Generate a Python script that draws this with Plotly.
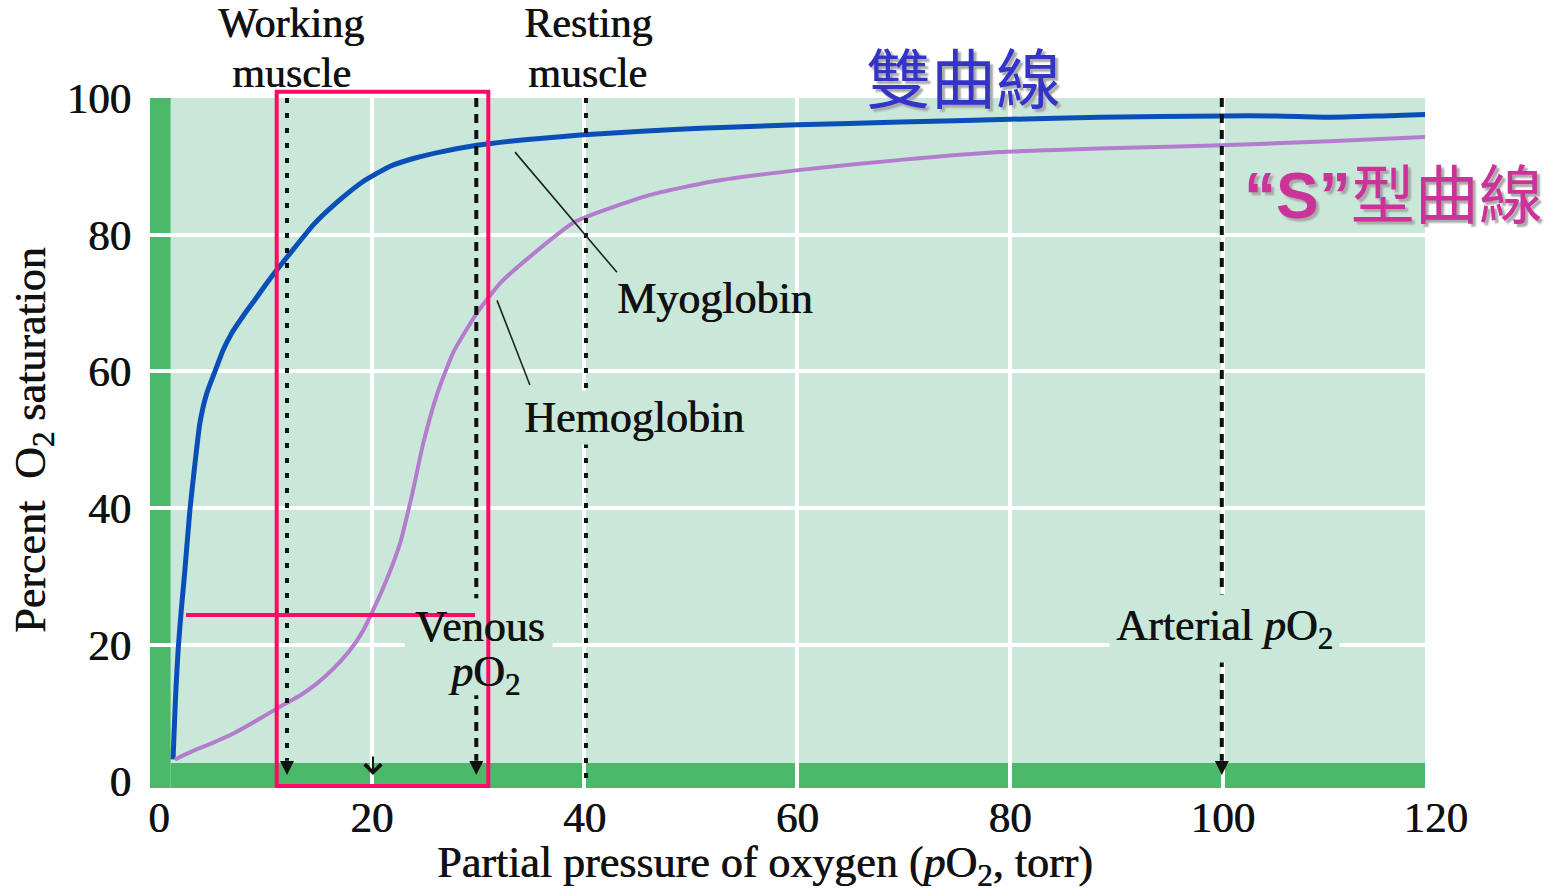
import plotly.graph_objects as go

# ---------------- data ----------------
x_ticks = [0, 20, 40, 60, 80, 100, 120]
y_ticks = [0, 20, 40, 60, 80, 100]
x_grid = [20, 40, 60, 80, 100]
y_grid = [20, 40, 60, 80]

myo_po2 = [1.33, 1.45, 1.6, 1.82, 2.1, 2.45, 2.9, 3.39, 3.86, 4.5, 5.27, 6.0, 6.84, 8.0, 9.03,
           10.0, 10.91, 12.7, 14.6, 17.0, 19.2, 21.7, 24.0, 26.4, 29.9, 33.0, 35.8, 39.6,
           45.0, 50.9, 60.0, 69.7, 80.0, 88.5, 99.9, 105.0, 110.0, 115.0, 119.0]
myo_sat = [3.2, 8.0, 13.5, 19.5, 25.0, 31.0, 39.5, 46.5, 52.5, 56.8, 60.0, 63.0, 65.6, 68.3, 70.5,
           72.6, 74.5, 78.0, 81.6, 85.1, 87.8, 90.0, 91.2, 92.1, 93.1, 93.7, 94.1, 94.6,
           95.1, 95.6, 96.1, 96.5, 96.9, 97.2, 97.4, 97.4, 97.2, 97.4, 97.6]

hb_po2 = [1.51, 3.0, 5.0, 6.99, 9.3, 11.69, 13.3, 14.83, 16.4, 17.96, 19.1, 20.15, 21.4, 22.66,
          23.8, 24.85, 26.11, 27.67, 29.87, 32.06, 34.88, 39.1, 46.1, 52.0, 60.3, 70.0, 79.05,
          90.0, 99.9, 110.0, 119.0]
hb_sat = [3.2, 4.3, 5.6, 7.0, 9.0, 11.2, 12.6, 14.3, 16.5, 19.2, 21.8, 25.1, 29.5, 34.8,
          42.0, 49.5, 56.5, 62.8, 68.5, 72.9, 76.8, 81.9, 85.8, 87.8, 89.5, 91.0, 92.1,
          92.7, 93.1, 93.7, 94.3]

# reference partial pressures (torr)
working_po2 = 12.04
resting_po2 = 40.14
venous_po2 = 29.83
arterial_po2 = 99.9
mid_mark_po2 = 20.12
red_line_sat = 24.34

# ---------------- styles ----------------
LIGHT = "#c9e8da"
GREEN = "#4cb96a"
BLUE = "#0a4fb8"
PURPLE = "#b37ccc"
RED = "#ff0a64"
TXT = "#111111"
SERIF = "Liberation Serif"
HEAVY = "0.7px 0 0 #111111"

XR = [-0.836, 120.69]
YR = [-0.98, 100.02]

fig = go.Figure()

fig.add_trace(go.Scatter(x=myo_po2, y=myo_sat, mode="lines", name="Myoglobin",
                         line=dict(color=BLUE, width=5, shape="spline", smoothing=0.5)))
fig.add_trace(go.Scatter(x=hb_po2, y=hb_sat, mode="lines", name="Hemoglobin",
                         line=dict(color=PURPLE, width=4, shape="spline", smoothing=0.5)))

dot = "5px,10px"
dash = "9px,7px"
for xv, d, y_end in [(working_po2, dot, 3.0), (resting_po2, dot, YR[0]),
                     (venous_po2, dash, 3.0), (arterial_po2, dash, 3.0)]:
    fig.add_trace(go.Scatter(x=[xv, xv], y=[YR[1], y_end], mode="lines",
                             line=dict(color="#111111", width=4, dash=d),
                             hoverinfo="skip"))

fig.add_trace(go.Scatter(x=[working_po2, venous_po2, arterial_po2], y=[0.92, 0.92, 0.92],
                         mode="markers", hoverinfo="skip",
                         marker=dict(symbol="arrow-down", size=14, color="#111111",
                                     line=dict(width=0))))

shapes = [
    # light background field
    dict(type="rect", xref="x", yref="y", x0=1.11, x1=119.0, y0=YR[0], y1=YR[1],
         fillcolor=LIGHT, line=dict(width=0), layer="below"),
    # green left bar
    dict(type="rect", xref="x", yref="y", x0=XR[0], x1=1.11, y0=YR[0], y1=YR[1],
         fillcolor=GREEN, line=dict(width=0), layer="below"),
    # green bottom bar
    dict(type="rect", xref="x", yref="y", x0=1.11, x1=119.0, y0=YR[0], y1=2.68,
         fillcolor=GREEN, line=dict(width=0), layer="below"),
    # patch behind the "Venous pO2" label
    dict(type="rect", xref="x", yref="y", x0=23.1, x1=37.0, y0=12.6, y1=26.8,
         fillcolor=LIGHT, line=dict(width=0), layer="above"),
    # pointer lines
    dict(type="line", xref="x", yref="y", x0=33.47, y0=92.1, x1=43.05, y1=74.5,
         line=dict(color="#222222", width=1.6), layer="above"),
    dict(type="line", xref="x", yref="y", x0=31.78, y0=70.4, x1=34.87, y1=58.0,
         line=dict(color="#222222", width=1.6), layer="above"),
    # red highlight box and line
    dict(type="rect", xref="x", yref="paper", x0=11.07, x1=30.96, y0=0.0029, y1=1.0091,
         line=dict(color=RED, width=4), fillcolor="rgba(0,0,0,0)", layer="above"),
    dict(type="line", xref="x", yref="y", x0=2.55, x1=29.71, y0=red_line_sat, y1=red_line_sat,
         line=dict(color=RED, width=4), layer="above"),
]

lab = dict(family=SERIF, size=44, color=TXT, shadow=HEAVY)
top = dict(family=SERIF, size=42, color=TXT, shadow=HEAVY)
C = dict(xanchor="center", yanchor="middle", showarrow=False)
annotations = [
    dict(text="Working", x=12.42, xref="x", y=1.1087, yref="paper", font=top, **C),
    dict(text="muscle", x=12.42, xref="x", y=1.0362, yref="paper", font=top, **C),
    dict(text="Resting", x=40.3, xref="x", y=1.1087, yref="paper", font=top, **C),
    dict(text="muscle", x=40.3, xref="x", y=1.0362, yref="paper", font=top, **C),
    dict(text="Myoglobin", x=52.27, y=70.6, xref="x", yref="y", font=lab, **C),
    dict(text="Hemoglobin", x=44.65, y=53.2, xref="x", yref="y", font=lab,
         bgcolor=LIGHT, borderpad=2, **C),
    dict(text="Venous", x=30.18, y=22.7, xref="x", yref="y", font=lab, **C),
    dict(text="<i>p</i>O<sub>2</sub>", x=30.55, y=15.7, xref="x", yref="y", font=lab, **C),
    dict(text="Arterial <i>p</i>O<sub>2</sub>", x=100.2, y=22.3, xref="x", yref="y",
         font=lab, bgcolor=LIGHT, borderpad=6, **C),
    dict(text="", x=mid_mark_po2, y=0.92, xref="x", yref="y", showarrow=True,
         ax=0, ay=-20, arrowhead=4, arrowsize=1.6, arrowwidth=2, arrowcolor="#111111"),
    dict(text="Partial pressure of oxygen (<i>p</i>O<sub>2</sub>, torr)", x=0.4756, y=-0.1130,
         xref="paper", yref="paper", font=dict(family=SERIF, size=44, color=TXT, shadow=HEAVY), **C),
    dict(text="Percent  O<sub>2</sub> saturation", x=-0.0905, y=0.5043, xref="paper", yref="paper",
         textangle=-90, font=dict(family=SERIF, size=44, color=TXT, shadow=HEAVY), **C),
    dict(text="雙曲線", x=0.6288, y=1.0333, xref="paper", yref="paper",
         font=dict(family="Noto Sans CJK TC", size=65, color="#3434c8",
                   shadow="3px 3px 2px #a8a8a8"), **C),
    dict(text="<span style=\"font-family:Liberation Sans\"><b>“S”</b></span>型曲線",
         x=1.0789, y=0.8667, xref="paper", yref="paper", xanchor="right", yanchor="middle",
         showarrow=False,
         font=dict(family="Noto Sans CJK TC", size=64, color="#cc3399",
                   shadow="3px 3px 2px #a8a8a8")),
]

tickfont = dict(family=SERIF, size=43, color=TXT, shadow=HEAVY)
fig.update_layout(
    width=1551, height=896,
    margin=dict(l=150, r=108, t=98, b=108),
    paper_bgcolor="white", plot_bgcolor="white",
    showlegend=False,
    shapes=shapes, annotations=annotations,
    xaxis=dict(range=XR, tickvals=x_ticks, ticktext=[str(v) for v in x_ticks],
               showgrid=False, zeroline=False, showline=False,
               ticks="inside", ticklen=0, tickfont=tickfont, ticklabelstandoff=0,
               minor=dict(tickvals=x_grid, showgrid=True, gridcolor="white", gridwidth=4,
                          ticks="outside", ticklen=0)),
    yaxis=dict(range=YR, tickvals=y_ticks, ticktext=[str(v) for v in y_ticks],
               showgrid=False, zeroline=False, showline=False,
               ticks="inside", ticklen=0, tickfont=tickfont, ticklabelstandoff=18,
               minor=dict(tickvals=y_grid, showgrid=True, gridcolor="white", gridwidth=4,
                          ticks="outside", ticklen=0)),
)

fig.write_html("out.html", config={"displayModeBar": False},
               post_script="document.body.style.margin='0px';")
